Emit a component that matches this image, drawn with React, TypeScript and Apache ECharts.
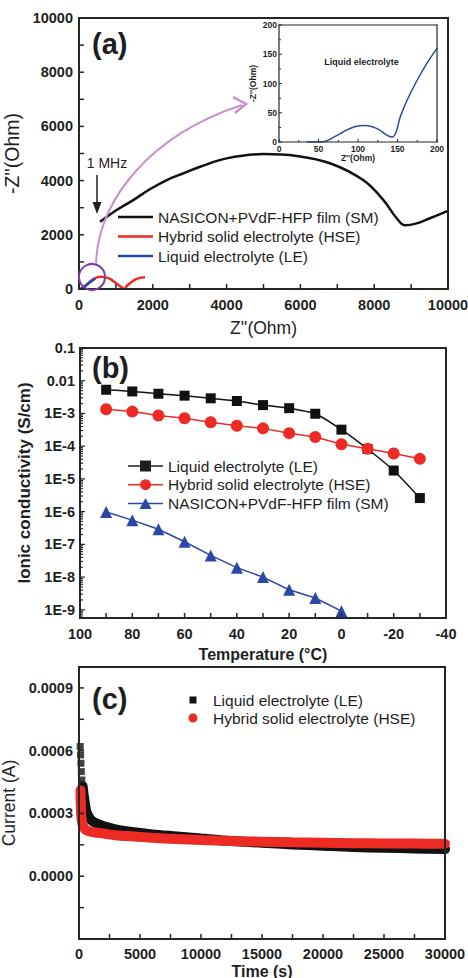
import React, { useEffect, useRef } from 'react';
import * as echarts from 'echarts';

const FONT = '"Liberation Sans", Arial, Helvetica, sans-serif';
const INK = '#1e1e1e';
const FRAME = '#262626';
const RED = '#ee2a24';
const BLUE = '#2b47a8';

const NAME_SM = 'NASICON+PVdF-HFP film (SM)';
const NAME_HSE = 'Hybrid solid electrolyte (HSE)';
const NAME_LE = 'Liquid electrolyte (LE)';

// ---- Panel (a): Nyquist plots [Z', -Z''] ----
const nyqSM = [
  [570, 2480], [1020, 2915], [1470, 3280], [1920, 3680], [2380, 4020], [2830, 4270],
  [3280, 4510], [4000, 4820], [5000, 4980], [5900, 4910], [6800, 4640], [7700, 4020],
  [8250, 3280], [8610, 2610], [8840, 2350], [9150, 2420], [9510, 2610], [10000, 2880],
];
const nyqHSE = [
  [100, 0], [200, 140], [350, 330], [570, 455], [800, 400], [1000, 220], [1150, 70],
  [1230, 0], [1300, 120], [1430, 270], [1600, 390], [1790, 430],
];
const nyqLE = [[30, 0], [150, 100], [300, 250], [440, 400]];
const insetLE = [
  [35, 0], [50, 0], [58, 1], [65, 5], [77, 14], [88, 22], [98, 27], [107, 28], [118, 26],
  [128, 20], [135, 13], [139, 10], [143, 8.6], [146, 11], [149, 20], [153.5, 43], [162, 71],
  [175, 106], [187, 134], [200, 160],
];

// ---- Panel (b): conductivity vs temperature ----
const tempsAll = [90, 80, 70, 60, 50, 40, 30, 20, 10, 0, -10, -20, -30];
const condLE = [5.3e-3, 4.7e-3, 4.0e-3, 3.5e-3, 2.9e-3, 2.4e-3, 1.8e-3, 1.45e-3, 9.8e-4, 3.2e-4, 8.2e-5, 1.8e-5, 2.6e-6];
const condHSE = [1.35e-3, 1.14e-3, 8.7e-4, 7.1e-4, 5.4e-4, 4.2e-4, 3.5e-4, 2.5e-4, 1.9e-4, 1.15e-4, 8.3e-5, 6.0e-5, 4.1e-5];
const tempsSM = [90, 80, 70, 60, 50, 40, 30, 20, 10, 0];
const condSM = [9.8e-7, 5.5e-7, 2.9e-7, 1.2e-7, 4.6e-8, 1.94e-8, 1.0e-8, 4.1e-9, 2.3e-9, 9.1e-10];

// ---- Panel (c): current vs time [t (s), I (A)] ----
const leSquares = [[100, 0.00062], [130, 0.00058], [160, 0.00054], [190, 0.0005], [230, 0.00046]];
const leBand = [
  [300, 0.00043], [400, 0.00038], [500, 0.00034], [600, 0.00031], [750, 0.00029], [1000, 0.000268],
  [1300, 0.000256], [1700, 0.000246], [2200, 0.000236], [3000, 0.000224], [4500, 0.00021],
  [6000, 0.0002], [8000, 0.00019], [10000, 0.00018], [12500, 0.000168], [15000, 0.00016],
  [17500, 0.000152], [20000, 0.000146], [22500, 0.00014], [25000, 0.000136], [27500, 0.000133],
  [30000, 0.00013],
];
const hseBand = [
  [120, 0.00041], [150, 0.00034], [200, 0.00028], [300, 0.000245], [450, 0.000228], [700, 0.000217],
  [1000, 0.000212], [1500, 0.000208], [2000, 0.000204], [3000, 0.000196], [4500, 0.00019],
  [6000, 0.000184], [8000, 0.000178], [10000, 0.000173], [12500, 0.000168], [15000, 0.000165],
  [17500, 0.000162], [20000, 0.00016], [22500, 0.000158], [25000, 0.000157], [27500, 0.000156],
  [30000, 0.000155],
];

const ticksA = { x: [0, 10000, 2000], y: [0, 10000, 2000] };
const ticksInset = { x: [0, 200, 50], y: [0, 200, 50] };
const ticksB = { x: [-40, 100, 20], yMin: 5.62e-10, yMax: 0.1 };
const ticksC = { x: [0, 30000, 5000], y: [-0.0003, 0.001, 0.0003] };
const logDecades = [-9, -8, -7, -6, -5, -4, -3, -2, -1];

const plain = (v: number) => String(v);

// tick positions (major + minor at half interval) for an axis [min, max, interval]
function tickVals(t: number[]) {
  const out: number[][] = [];
  const n = Math.round((t[1] - t[0]) / (t[2] / 2));
  for (let i = 0; i <= n; i++) {
    const v = +(t[0] + (i * t[2]) / 2).toPrecision(10);
    if (v <= t[1] + 1e-12) out.push([v, i % 2 === 0 ? 1 : 0]);
  }
  return out;
}
// log-axis ticks: decades (major) and 2..9 multiples (minor)
function logTickVals() {
  const out: number[][] = [];
  logDecades.forEach((e) => {
    out.push([Math.pow(10, e), 1]);
    for (let m = 2; m <= 9; m++) {
      const v = m * Math.pow(10, e - 1);
      if (v > ticksB.yMin) out.push([v, 0]);
    }
  });
  return out;
}

// inside ticks drawn as thin filled bars placed through each axis' scale
function tickSeries(axisIdx: number, dir: 'x' | 'y', vals: number[][], edge: number, lenMajor: number, lenMinor: number, w: number) {
  return {
    type: 'custom', xAxisIndex: axisIdx, yAxisIndex: axisIdx, z: 20, clip: false, silent: true,
    data: vals.map((v) => (dir === 'x' ? [v[0], edge, v[1]] : [edge, v[0], v[1]])),
    encode: { x: 0, y: 1 },
    renderItem: (params: any, api: any) => {
      const p = api.coord([api.value(0), api.value(1)]);
      const len = api.value(2) ? lenMajor : lenMinor;
      const shape = dir === 'x'
        ? { x: p[0] - w / 2, y: p[1] - len, width: w, height: len }
        : { x: p[0], y: p[1] - w / 2, width: len, height: w };
      return { type: 'rect', shape, style: { fill: FRAME } };
    },
  };
}

function axisStyle(fs: number, margin: number) {
  return {
    axisLine: { show: false, onZero: false },
    axisTick: { show: false },
    minorTick: { show: false },
    splitLine: { show: false },
    axisLabel: { color: INK, fontSize: fs, fontWeight: 'bold', fontFamily: FONT, margin, formatter: plain },
  };
}

function nameStyle(fs: number, weight: string) {
  return { color: INK, fontSize: fs, fontWeight: weight, fontFamily: FONT };
}

const LEG_LINE = 'path://M0 5.75h35v2.5H0z M0 0h0.01v0.01H0z M34.99 13.99h0.01v0.01h-0.01z';
const LEG_SQ = 'path://M0 4.75h35v1.5H0z M12 0h11v11H12z';
const LEG_CI = 'path://M0 4.75h35v1.5H0z M17.5 0a5.5 5.5 0 1 1 0 11a5.5 5.5 0 1 1 0-11z';
const LEG_TR = 'path://M0 4.75h35v1.5H0z M17.5 0L23.5 11H11.5z';
const LEG_C_SQ = 'path://M0 0h0.01v0.01H0z M1.5 1.5h7v7h-7z M19.9 9.9h0.1v0.1h-0.1z';
const LEG_C_CI = 'path://M5 0.5a4.5 4.5 0 1 1 0 9a4.5 4.5 0 1 1 0-9z M0 0h0.01v0.01H0z M19.9 9.9h0.1v0.1h-0.1z';

function gtext(text: string, x: number, y: number, font: string, align = 'left') {
  return {
    type: 'text', z: 100,
    style: { text, x, y, font, fill: INK, align, verticalAlign: 'middle', textAlign: align, textVerticalAlign: 'middle' },
  };
}

// plot frames (grid boxes)
const frames = [
  { left: 79, top: 18, width: 369, height: 271, lw: 2 },
  { left: 279, top: 25, width: 158, height: 117, lw: 1.2 },
  { left: 80, top: 348, width: 366, height: 270, lw: 2 },
  { left: 79, top: 667, width: 366, height: 272, lw: 2 },
];

function frameBars(f: { left: number; top: number; width: number; height: number; lw: number }) {
  const h = f.lw / 2;
  const bars = [
    { x: f.left - h, y: f.top - h, width: f.width + f.lw, height: f.lw },
    { x: f.left - h, y: f.top + f.height - h, width: f.width + f.lw, height: f.lw },
    { x: f.left - h, y: f.top - h, width: f.lw, height: f.height + f.lw },
    { x: f.left + f.width - h, y: f.top - h, width: f.lw, height: f.height + f.lw },
  ];
  return bars.map((b) => ({ type: 'rect', z: 95, silent: true, shape: b, style: { fill: FRAME } }));
}

export default function App() {
  const ref = useRef<HTMLDivElement>(null);
  useEffect(() => {
    if (!ref.current) return;
    const chart = echarts.init(ref.current, null, { renderer: 'svg' });
    const legendText = { fontSize: 15.5, color: INK, fontFamily: FONT, lineHeight: 16 };
    const option: any = {
      animation: false,
      textStyle: { fontFamily: FONT },
      grid: frames.map((f, i) => ({
        left: f.left, top: f.top, width: f.width, height: f.height, outerBoundsMode: 'none', containLabel: false,
        show: i === 1, borderWidth: 0, backgroundColor: '#fff',
      })),
      xAxis: [
        { gridIndex: 0, type: 'value', min: ticksA.x[0], max: ticksA.x[1], interval: ticksA.x[2], name: "Z''(Ohm)", nameLocation: 'middle', nameGap: 30, nameTextStyle: nameStyle(17.5, 'normal'), ...axisStyle(14.5, 8) },
        { gridIndex: 1, type: 'value', min: ticksInset.x[0], max: ticksInset.x[1], interval: ticksInset.x[2], name: "Z''(Ohm)", nameLocation: 'middle', nameGap: 11, nameTextStyle: nameStyle(8.5, 'bold'), ...axisStyle(8.5, 2) },
        { gridIndex: 2, type: 'value', inverse: true, min: ticksB.x[0], max: ticksB.x[1], interval: ticksB.x[2], name: 'Temperature (°C)', nameLocation: 'middle', nameGap: 28, nameTextStyle: nameStyle(16, 'bold'), ...axisStyle(14.5, 8) },
        { gridIndex: 3, type: 'value', min: ticksC.x[0], max: ticksC.x[1], interval: ticksC.x[2], name: 'Time (s)', nameLocation: 'middle', nameGap: 24, nameTextStyle: nameStyle(16, 'bold'), ...axisStyle(14.5, 7) },
      ],
      yAxis: [
        { gridIndex: 0, type: 'value', min: ticksA.y[0], max: ticksA.y[1], interval: ticksA.y[2], name: "-Z''(Ohm)", nameLocation: 'middle', nameGap: 46, nameTextStyle: nameStyle(19.5, 'normal'), ...axisStyle(14.5, 6) },
        { gridIndex: 1, type: 'value', min: ticksInset.y[0], max: ticksInset.y[1], interval: ticksInset.y[2], name: "-Z''(Ohm)", nameLocation: 'middle', nameGap: 22, nameTextStyle: nameStyle(8.5, 'bold'), ...axisStyle(8.5, 2) },
        {
          gridIndex: 2, type: 'log', logBase: 10, min: ticksB.yMin, max: ticksB.yMax,
          name: 'Ionic conductivity (S/cm)', nameLocation: 'middle', nameGap: 45, nameTextStyle: nameStyle(17, 'bold'),
          ...axisStyle(14.5, 5),
          axisLabel: {
            color: INK, fontSize: 14.5, fontWeight: 'bold', fontFamily: FONT, margin: 5, showMinLabel: false,
            formatter: (v: number) => {
              const e = Math.round(Math.log10(v));
              if (Math.abs(Math.log10(v) - e) > 0.01) return '';
              if (e === -1) return '0.1';
              if (e === -2) return '0.01';
              return '1E' + e;
            },
          },
        },
        {
          gridIndex: 3, type: 'value', min: ticksC.y[0], max: ticksC.y[1], interval: ticksC.y[2],
          name: 'Current (A)', nameLocation: 'middle', nameGap: 57, nameTextStyle: nameStyle(17.5, 'normal'),
          ...axisStyle(14.5, 6),
          axisLabel: {
            color: INK, fontSize: 14.5, fontWeight: 'bold', fontFamily: FONT, margin: 6,
            formatter: (v: number) => (v < -0.0001 || v > 0.00095 ? '' : Math.abs(v).toFixed(4)),
          },
        },
      ],
      legend: [
        {
          data: [
            { name: NAME_SM, icon: LEG_LINE, itemStyle: { color: '#111', borderWidth: 0 } },
            { name: NAME_HSE, icon: LEG_LINE, itemStyle: { color: RED, borderWidth: 0 } },
            { name: NAME_LE, icon: LEG_LINE, itemStyle: { color: BLUE, borderWidth: 0 } },
          ],
          orient: 'vertical', left: 118, top: 209, padding: 0,
          itemWidth: 35, itemHeight: 14, itemGap: 3.5, selectedMode: false, textStyle: legendText,
        },
        {
          data: [
            { name: NAME_LE, icon: LEG_SQ, itemStyle: { color: INK, borderWidth: 0 } },
            { name: NAME_HSE, icon: LEG_CI, itemStyle: { color: RED, borderWidth: 0 } },
            { name: NAME_SM, icon: LEG_TR, itemStyle: { color: BLUE, borderWidth: 0 } },
          ],
          orient: 'vertical', left: 128, top: 458, padding: 0,
          itemWidth: 35, itemHeight: 11, itemGap: 2.7, selectedMode: false, textStyle: legendText,
        },
        {
          data: [
            { name: NAME_LE, icon: LEG_C_SQ, itemStyle: { color: '#111', borderWidth: 0 } },
            { name: NAME_HSE, icon: LEG_C_CI, itemStyle: { color: RED, borderWidth: 0 } },
          ],
          orient: 'vertical', left: 188, top: 692, padding: 0,
          itemWidth: 20, itemHeight: 10, itemGap: 2, selectedMode: false, textStyle: legendText,
        },
      ],
      series: [
        // (a)
        { name: NAME_SM, type: 'line', xAxisIndex: 0, yAxisIndex: 0, data: nyqSM, smooth: 0.4, symbol: 'none', lineStyle: { color: '#111', width: 2.5 }, itemStyle: { color: '#111' } },
        { name: NAME_HSE, type: 'line', xAxisIndex: 0, yAxisIndex: 0, data: nyqHSE, smooth: 0.4, symbol: 'none', lineStyle: { color: RED, width: 2.5 }, itemStyle: { color: RED } },
        { name: NAME_LE, type: 'line', xAxisIndex: 0, yAxisIndex: 0, data: nyqLE, smooth: 0.4, symbol: 'none', lineStyle: { color: BLUE, width: 2.5 }, itemStyle: { color: BLUE } },
        { id: 'insetLE', type: 'line', xAxisIndex: 1, yAxisIndex: 1, data: insetLE, smooth: 0.4, symbol: 'none', lineStyle: { color: BLUE, width: 1.5 }, itemStyle: { color: BLUE } },
        // (b)
        { name: NAME_LE, type: 'line', xAxisIndex: 2, yAxisIndex: 2, data: tempsAll.map((t, i) => [t, condLE[i]]), smooth: 0.2, symbol: 'rect', symbolSize: 10, lineStyle: { color: '#111', width: 1.5 }, itemStyle: { color: '#111' } },
        { name: NAME_HSE, type: 'line', xAxisIndex: 2, yAxisIndex: 2, data: tempsAll.map((t, i) => [t, condHSE[i]]), symbol: 'circle', symbolSize: 12, lineStyle: { color: RED, width: 1.5 }, itemStyle: { color: RED } },
        { name: NAME_SM, type: 'line', xAxisIndex: 2, yAxisIndex: 2, data: tempsSM.map((t, i) => [t, condSM[i]]), symbol: 'triangle', symbolSize: 12, lineStyle: { color: BLUE, width: 1.5 }, itemStyle: { color: BLUE } },
        // (c)
        { name: NAME_LE, type: 'scatter', xAxisIndex: 3, yAxisIndex: 3, data: leSquares, symbol: 'rect', symbolSize: 7, itemStyle: { color: '#111' } },
        { id: 'leBand', type: 'line', xAxisIndex: 3, yAxisIndex: 3, data: leBand, smooth: 0.3, symbol: 'none', lineStyle: { color: '#111', width: 10, cap: 'round' }, itemStyle: { color: '#111' } },
        { id: 'hseBand', type: 'line', xAxisIndex: 3, yAxisIndex: 3, data: hseBand, smooth: 0.3, symbol: 'none', lineStyle: { color: RED, width: 10, cap: 'round' }, itemStyle: { color: RED } },
        // inside ticks
        tickSeries(0, 'x', tickVals(ticksA.x), ticksA.y[0], 5, 5, 1.5),
        tickSeries(0, 'y', tickVals(ticksA.y), ticksA.x[0], 5, 5, 1.5),
        tickSeries(1, 'x', tickVals(ticksInset.x), ticksInset.y[0], 3, 2, 1),
        tickSeries(1, 'y', tickVals(ticksInset.y), ticksInset.x[0], 3, 2, 1),
        tickSeries(2, 'x', tickVals(ticksB.x), ticksB.yMin, 5, 5, 1.5),
        tickSeries(2, 'y', logTickVals(), ticksB.x[1], 5, 3, 1.2),
        tickSeries(3, 'x', tickVals(ticksC.x), ticksC.y[0], 5, 5, 1.5),
        tickSeries(3, 'y', tickVals(ticksC.y), ticksC.x[0], 5, 5, 1.5),
      ],
      graphic: [
        ...frames.flatMap(frameBars),
        gtext('(a)', 92, 44, `bold 29px ${FONT}`),
        gtext('(b)', 92, 368, `bold 29px ${FONT}`),
        gtext('(c)', 92, 699, `bold 29px ${FONT}`),
        gtext('1 MHz', 107, 163, `14px ${FONT}`, 'center'),
        gtext('Liquid electrolyte', 361.5, 62, `bold 9px ${FONT}`, 'center'),
        { type: 'line', z: 100, shape: { x1: 97, y1: 175, x2: 97, y2: 205 }, style: { stroke: INK, lineWidth: 1.5 } },
        { type: 'polygon', z: 100, shape: { points: [[92.5, 202], [101.5, 202], [97, 214]] }, style: { fill: INK } },
        { type: 'circle', z: 100, shape: { cx: 92, cy: 277, r: 13 }, style: { fill: 'none', stroke: '#7b3fa8', lineWidth: 2 } },
        { type: 'bezierCurve', z: 100, shape: { x1: 96, y1: 264, cpx1: 98, cpy1: 200, cpx2: 150, cpy2: 135, x2: 242, y2: 105 }, style: { fill: 'none', stroke: '#c890cc', lineWidth: 2 } },
        { type: 'polyline', z: 100, shape: { points: [[233, 97], [246, 104], [235, 113]] }, style: { fill: 'none', stroke: '#c890cc', lineWidth: 2.5 } },
      ],
    };
    chart.setOption(option);
    return () => chart.dispose();
  }, []);
  return <div ref={ref} style={{ position: 'absolute', left: 0, top: 0, width: 468, height: 978, background: '#fff' }} />;
}
